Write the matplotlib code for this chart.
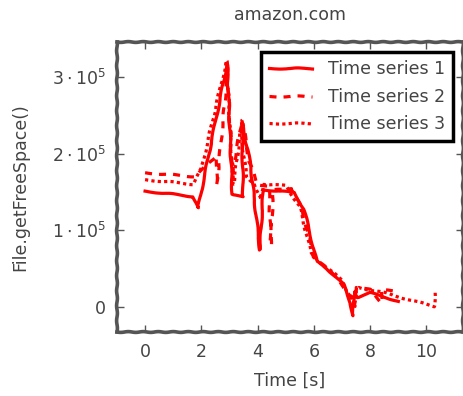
import matplotlib
matplotlib.use("Agg")
import matplotlib.pyplot as plt

# data (values in units of 1e5)
t1 = [0, 1.7, 1.88, 2.92, 3.1, 3.48, 3.45, 3.75, 4.08, 4.2, 5.3, 5.65, 6.1, 6.45, 7.05, 7.3, 7.38, 7.45, 7.55, 8.0, 9.0]
v1 = [1.51, 1.44, 1.29, 3.18, 1.47, 1.43, 2.4, 1.85, 0.74, 1.53, 1.49, 1.27, 0.59, 0.5, 0.29, 0.05, -0.12, 0.2, 0.12, 0.18, 0.07]

t2 = [0, 1.77, 2.0, 2.55, 2.55, 2.93, 3.1, 3.45, 3.7, 4.0, 4.4, 4.47, 4.55, 5.2, 5.55, 6.0, 6.4, 6.9, 7.3, 7.45, 7.5, 8.0, 8.4, 8.4, 8.8]
v2 = [1.75, 1.70, 1.78, 1.97, 1.58, 3.05, 1.75, 2.45, 1.9, 1.6, 1.57, 0.8, 1.52, 1.55, 1.3, 0.65, 0.52, 0.35, 0.12, 0.0, 0.25, 0.22, 0.05, 0.22, 0.2]

t3 = [0, 1.7, 1.85, 2.0, 2.9, 3.05, 3.15, 3.4, 3.6, 3.9, 4.1, 4.2, 5.0, 5.5, 5.9, 6.3, 7.0, 7.3, 7.6, 8.5, 10.28, 10.3]
v3 = [1.66, 1.60, 1.70, 1.80, 3.22, 2.1, 1.6, 2.3, 1.7, 1.6, 1.4, 1.6, 1.58, 1.3, 0.7, 0.55, 0.35, 0.1, 0.25, 0.18, 0.0, 0.22]

labels = ["Time series 1", "Time series 2", "Time series 3"]
ytick_vals = [0, 1e5, 2e5, 3e5]
ytick_text = [r"$0$", r"$1 \cdot 10^5$", r"$2 \cdot 10^5$", r"$3 \cdot 10^5$"]
xtick_vals = [0, 2, 4, 6, 8, 10]

txt = "#444444"
plt.rcParams["font.family"] = ["DejaVu Sans"]
plt.rcParams["mathtext.fontset"] = "dejavusans"

fig = plt.figure(figsize=(4.64, 3.96), dpi=100)
ax = fig.add_axes([0.252, 0.162, 0.746, 0.732])

sk = (0.6, 40, 2)
l1, = ax.plot(t1, [v * 1e5 for v in v1], color="red", lw=2.3, ls="-", label=labels[0])
l2, = ax.plot(t2, [v * 1e5 for v in v2], color="red", lw=2.3, ls=(0, (2.2, 2.2)), label=labels[1])
l3, = ax.plot(t3, [v * 1e5 for v in v3], color="red", lw=2.3, ls=(0, (1, 1)), label=labels[2])
for l in (l1, l2, l3):
    l.set_sketch_params(*sk)

ax.set_xlim(-1, 11.3)
ax.set_ylim(-0.33e5, 3.46e5)
ax.set_xticks(xtick_vals)
ax.set_xticklabels([str(x) for x in xtick_vals])
ax.set_yticks(ytick_vals)
ax.set_yticklabels(ytick_text)
ax.tick_params(direction="in", length=5, width=1, color="#555555",
               labelcolor=txt, labelsize=12.5, top=True, right=True, pad=8)

for s in ax.spines.values():
    s.set_color("#555555")
    s.set_linewidth(2.6)
    s.set_sketch_params(0.4, 15, 1)

ax.set_title("amazon.com", color=txt, fontsize=12.5, pad=16)
ax.set_xlabel("Time [s]", color=txt, fontsize=12.5, labelpad=8)
ax.set_ylabel("File.getFreeSpace()", color=txt, fontsize=12.5, labelpad=16)

leg = ax.legend(loc="upper right", fancybox=False, framealpha=1, edgecolor="black",
                fontsize=12.5, handlelength=2.5, borderpad=0.45, labelspacing=0.55,
                handletextpad=0.9, borderaxespad=0.6)
leg.get_frame().set_linewidth(2.5)
for t in leg.get_texts():
    t.set_color(txt)

fig.savefig("out.png", dpi=100)
